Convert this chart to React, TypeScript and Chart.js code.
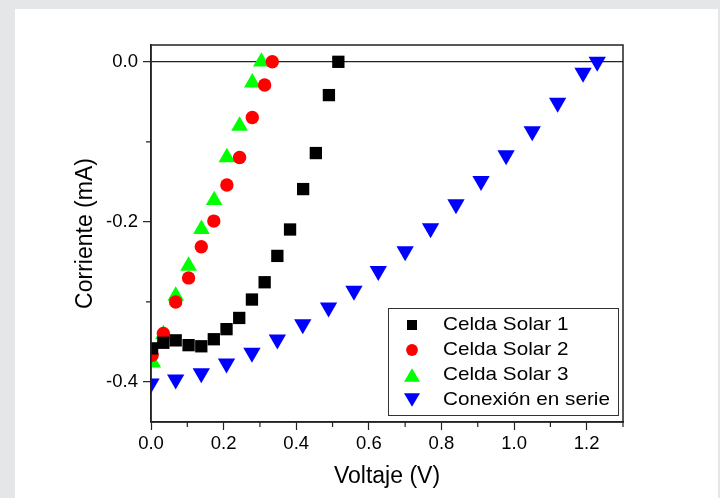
import React, { useEffect, useRef } from "react";
import { Chart, registerables } from "chart.js";

Chart.register(...registerables);

// ---- Data ----
const celda1V = [0.003, 0.034, 0.068, 0.1035, 0.1385, 0.173, 0.208, 0.243, 0.278, 0.313, 0.348, 0.383, 0.419, 0.454, 0.49, 0.516];
const celda1I = [-0.358, -0.351, -0.348, -0.354, -0.3554, -0.3466, -0.334, -0.32, -0.297, -0.2754, -0.2425, -0.2095, -0.159, -0.114, -0.0416, 0.0];

const celda2V = [0.003, 0.034, 0.068, 0.1035, 0.1385, 0.173, 0.209, 0.244, 0.279, 0.313, 0.334];
const celda2I = [-0.3666, -0.3395, -0.3, -0.27, -0.231, -0.199, -0.154, -0.1195, -0.0695, -0.029, 0.0];

const celda3V = [0.005, 0.034, 0.068, 0.1035, 0.139, 0.174, 0.209, 0.244, 0.279, 0.304];
const celda3I = [-0.376, -0.3405, -0.2925, -0.255, -0.209, -0.173, -0.1195, -0.08, -0.026, 0.0];

const serieV = [0.0, 0.068, 0.1385, 0.208, 0.278, 0.348, 0.418, 0.489, 0.559, 0.626, 0.7, 0.77, 0.84, 0.909, 0.978, 1.05, 1.12, 1.19, 1.229];
const serieI = [-0.402, -0.397, -0.389, -0.377, -0.3636, -0.347, -0.328, -0.307, -0.286, -0.2615, -0.2366, -0.208, -0.178, -0.149, -0.1166, -0.0866, -0.051, -0.0136, 0.0];

const seriesNames = ["Celda Solar 1", "Celda Solar 2", "Celda Solar 3", "Conexión en serie"];
const seriesColors = ["#000000", "#ff0000", "#00ff00", "#0000ff"];

const xTickValues = [0, 0.1, 0.2, 0.3, 0.4, 0.5, 0.6, 0.7, 0.8, 0.9, 1.0, 1.1, 1.2, 1.3];
const xLabelled = [0, 0.2, 0.4, 0.6, 0.8, 1.0, 1.2];
const yTickValues = [-0.4, -0.3, -0.2, -0.1, 0.0];
const yLabelled = [-0.4, -0.2, 0.0];

const xTitle = "Voltaje (V)";
const yTitle = "Corriente (mA)";

const FONT = "'Liberation Sans', Arial, sans-serif";

const isLabelled = (list: number[], v: number) => list.some((l) => Math.abs(l - v) < 1e-9);

function pts(xs: number[], ys: number[]) {
  return xs.map((x, i) => ({ x, y: ys[i] }));
}

function drawMarker(ctx: CanvasRenderingContext2D, kind: number, x: number, y: number) {
  ctx.save();
  ctx.fillStyle = seriesColors[kind];
  ctx.beginPath();
  if (kind === 0) {
    const s = 5;
    ctx.rect(x - s, y - s, 2 * s, 2 * s);
  } else if (kind === 1) {
    ctx.arc(x, y, 5.9, 0, Math.PI * 2);
  } else if (kind === 2) {
    const hw = 8;
    const hh = 6.8;
    ctx.moveTo(x, y - hh);
    ctx.lineTo(x + hw, y + hh);
    ctx.lineTo(x - hw, y + hh);
    ctx.closePath();
  } else {
    const hw = 8;
    const hh = 6.8;
    ctx.moveTo(x, y + hh);
    ctx.lineTo(x + hw, y - hh);
    ctx.lineTo(x - hw, y - hh);
    ctx.closePath();
  }
  ctx.fill();
  ctx.restore();
}

const framePlugin = {
  id: "frameAndLegend",
  afterDatasetsDraw(chart: any) {
    const ctx: CanvasRenderingContext2D = chart.ctx;
    const a = chart.chartArea;
    const xs = chart.scales.x;
    const ys = chart.scales.y;
    ctx.save();
    // frame
    ctx.strokeStyle = "#222";
    ctx.lineWidth = 1.5;
    ctx.strokeRect(a.left, a.top, a.right - a.left, a.bottom - a.top);
    // minor ticks
    ctx.lineWidth = 1.2;
    ctx.beginPath();
    xTickValues.forEach((v) => {
      if (isLabelled(xLabelled, v)) return;
      const px = xs.getPixelForValue(v);
      ctx.moveTo(px, a.bottom);
      ctx.lineTo(px, a.bottom + 5);
    });
    yTickValues.forEach((v) => {
      if (isLabelled(yLabelled, v)) return;
      const py = ys.getPixelForValue(v);
      ctx.moveTo(a.left, py);
      ctx.lineTo(a.left - 5, py);
    });
    ctx.stroke();

    // legend
    const lw = 230;
    const lh = 107;
    const lx = a.right - 5 - lw;
    const ly = a.bottom - 7 - lh;
    ctx.fillStyle = "#ffffff";
    ctx.fillRect(lx, ly, lw, lh);
    ctx.strokeStyle = "#333";
    ctx.lineWidth = 1;
    ctx.strokeRect(lx + 0.5, ly + 0.5, lw, lh);
    ctx.font = `19px ${FONT}`;
    ctx.textBaseline = "middle";
    ctx.textAlign = "left";
    seriesNames.forEach((name, i) => {
      const cy = ly + 17 + i * 25;
      drawMarker(ctx, i, lx + 24, cy);
      ctx.save();
      ctx.translate(lx + 55, cy);
      ctx.scale(1.09, 1);
      ctx.fillStyle = "#000";
      ctx.fillText(name, 0, 0);
      ctx.restore();
    });
    ctx.restore();
  },
};

export default function App() {
  const ref = useRef<HTMLCanvasElement>(null);

  useEffect(() => {
    if (!ref.current) return;
    const chart = new Chart(ref.current, {
      type: "scatter",
      data: {
        datasets: [
          {
            label: seriesNames[0],
            data: pts(celda1V, celda1I),
            pointStyle: "rect",
            pointRadius: 8.7,
            pointBorderWidth: 0,
            backgroundColor: seriesColors[0],
            borderColor: seriesColors[0],
          },
          {
            label: seriesNames[1],
            data: pts(celda2V, celda2I),
            pointStyle: "circle",
            pointRadius: 6.7,
            pointBorderWidth: 0,
            backgroundColor: seriesColors[1],
            borderColor: seriesColors[1],
          },
          {
            label: seriesNames[2],
            data: pts(celda3V, celda3I),
            pointStyle: "triangle",
            pointRadius: 9.6,
            pointBorderWidth: 0,
            backgroundColor: seriesColors[2],
            borderColor: seriesColors[2],
          },
          {
            label: seriesNames[3],
            data: pts(serieV, serieI),
            pointStyle: "triangle",
            rotation: 180,
            pointRadius: 10,
            pointBorderWidth: 0,
            backgroundColor: seriesColors[3],
            borderColor: seriesColors[3],
          },
        ],
      },
      options: {
        animation: false,
        responsive: false,
        maintainAspectRatio: false,
        layout: { padding: { left: 0, top: 45, right: 97, bottom: 0 } },
        plugins: {
          legend: { display: false },
          tooltip: { enabled: false },
        },
        scales: {
          x: {
            type: "linear",
            min: 0,
            max: 1.3,
            afterFit: (s: any) => {
              s.height = 76;
            },
            afterBuildTicks: (s: any) => {
              s.ticks = xTickValues.map((v) => ({ value: v }));
            },
            border: { display: true, color: "#222", width: 1.5 },
            grid: {
              display: true,
              drawOnChartArea: false,
              drawTicks: true,
              tickLength: 8,
              tickWidth: 1.2,
              tickColor: (c: any) => (c.tick && isLabelled(xLabelled, c.tick.value) ? "#222" : "rgba(0,0,0,0)"),
            },
            ticks: {
              autoSkip: false,
              maxRotation: 0,
              padding: 3,
              color: "#000",
              font: { family: FONT, size: 18.5 },
              callback: (v: any) => (isLabelled(xLabelled, Number(v)) ? Number(v).toFixed(1) : ""),
            },
            title: {
              display: true,
              text: xTitle,
              color: "#000",
              font: { family: FONT, size: 23 },
              padding: { top: 0, bottom: 7.5 },
            },
          },
          y: {
            type: "linear",
            min: -0.45,
            max: 0.021,
            afterFit: (s: any) => {
              s.width = 151;
            },
            afterBuildTicks: (s: any) => {
              s.ticks = yTickValues.map((v) => ({ value: v }));
            },
            border: { display: true, color: "#222", width: 1.5 },
            grid: {
              display: true,
              drawOnChartArea: true,
              drawTicks: true,
              tickLength: 8,
              tickWidth: 1.2,
              lineWidth: 1.3,
              color: (c: any) => (c.tick && Math.abs(c.tick.value) < 1e-9 ? "#222" : "rgba(0,0,0,0)"),
              tickColor: (c: any) => (c.tick && isLabelled(yLabelled, c.tick.value) ? "#222" : "rgba(0,0,0,0)"),
            },
            ticks: {
              autoSkip: false,
              padding: 5,
              color: "#000",
              font: { family: FONT, size: 18.5 },
              callback: (v: any) => (isLabelled(yLabelled, Number(v)) ? Number(v).toFixed(1) : ""),
            },
            title: {
              display: true,
              text: yTitle,
              color: "#000",
              font: { family: FONT, size: 23 },
              padding: { top: 72, bottom: 0 },
            },
          },
        },
      },
      plugins: [framePlugin],
    });
    return () => chart.destroy();
  }, []);

  return (
    <div style={{ position: "fixed", left: 0, top: 0, width: 720, height: 498, background: "#e5e6e8" }}>
      <div style={{ position: "absolute", left: 15, top: 9, width: 703, height: 489, background: "#ffffff" }} />
      <canvas ref={ref} width={720} height={498} style={{ position: "absolute", left: 0, top: 0, width: 720, height: 498 }} />
    </div>
  );
}
